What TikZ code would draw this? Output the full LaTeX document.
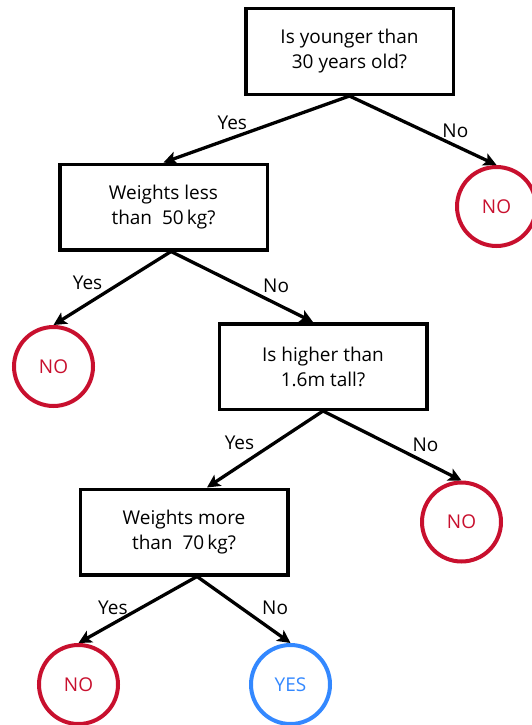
\documentclass[tikz,border=0pt]{standalone}
\usepackage{fontspec}
\setmainfont{Open Sans}
\usetikzlibrary{arrows.meta}
\definecolor{nored}{HTML}{C8102E}
\definecolor{yesblue}{HTML}{3388FF}
\begin{document}
\begin{tikzpicture}[x=1pt, y=-1pt,
    question/.style={draw, line width=3.5pt, minimum width=207.5pt, minimum height=85.5pt, align=center, font=\fontsize{19}{25}\selectfont},
    leafno/.style={circle, draw=nored, line width=4pt, minimum size=79pt, text=nored, font=\fontsize{19}{20}\selectfont},
    leafyes/.style={circle, draw=yesblue, line width=4pt, minimum size=79pt, text=yesblue, font=\fontsize{19}{20}\selectfont},
    branch/.style={line width=3.3pt, -{Stealth[length=13pt, width=13pt, inset=3pt]}},
    answer/.style={font=\fontsize{19}{20}\selectfont}]
    \useasboundingbox (0,0) rectangle (532,725);
    % questions
    \node[question] (q1) at (349.5,51.5) {Is younger than\\30 years old?};
    \node[question] (q2) at (163.5,207) {Weights less\\than~~50\,kg?};
    \node[question] (q3) at (323,366.5) {Is higher than\\1.6m tall?};
    \node[question] (q4) at (184,532) {Weights more\\than~~70\,kg?};
    % leaves
    \node[leafno] (n1) at (496.5,206.5) {NO};
    \node[leafno] (n2) at (53.5,366.5) {NO};
    \node[leafno] (n3) at (461.5,522) {NO};
    \node[leafno] (n4) at (78.5,684.5) {NO};
    \node[leafyes] (y1) at (290.5,684.5) {YES};
    % branches
    \draw[branch] (q1.south) -- node[answer, pos=0.63, yshift=15pt] (a1) {Yes} (q2.north);
    \draw[branch] (q1.south) -- node[answer, pos=0.72, yshift=15pt] (a2) {No} (n1.north);
    \draw[branch] ([xshift=7.5pt]q2.south) -- node[answer, pos=0.71, yshift=21pt] (a3) {Yes} (n2.north);
    \draw[branch] ([xshift=7.5pt]q2.south) -- node[answer, pos=0.74, yshift=18pt] (a4) {No} ([xshift=-10pt]q3.north);
    \draw[branch] (q3.south) -- node[answer, pos=0.72, yshift=23pt] (a5) {Yes} ([xshift=23pt]q4.north);
    \draw[branch] (q3.south) -- node[answer, pos=0.74, yshift=18pt] (a6) {No} (n3.north);
    \draw[branch] ([xshift=13pt]q4.south) -- node[answer, pos=0.71, yshift=16pt] (a7) {Yes} (n4.north);
    \draw[branch] ([xshift=13pt]q4.south) -- node[answer, pos=0.835, yshift=24pt] (a8) {No} (y1.north);
\end{tikzpicture}
\end{document}
